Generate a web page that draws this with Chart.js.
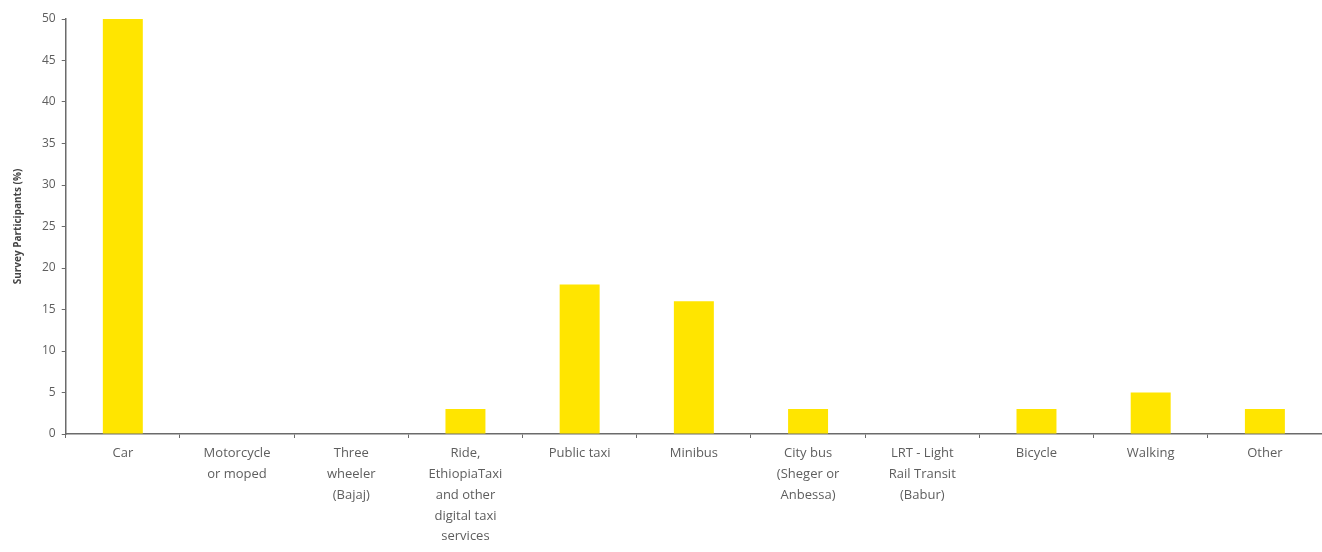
<!DOCTYPE html>
<html>
<head>
<meta charset="utf-8">
<script src="https://cdn.jsdelivr.net/npm/chart.js@4/dist/chart.umd.min.js"></script>
<style>
  html, body { margin: 0; padding: 0; background: #fff; }
  #wrap { width: 1322px; height: 552px; position: relative; }
</style>
</head>
<body>
<div id="wrap"><canvas id="chart"></canvas></div>
<script>
// categories (multi-line labels as shown under the axis)
const categories = [
  ['Car'],
  ['Motorcycle', 'or moped'],
  ['Three', 'wheeler', '(Bajaj)'],
  ['Ride,', 'EthiopiaTaxi', 'and other', 'digital taxi', 'services'],
  ['Public taxi'],
  ['Minibus'],
  ['City bus', '(Sheger or', 'Anbessa)'],
  ['LRT - Light', 'Rail Transit', '(Babur)'],
  ['Bicycle'],
  ['Walking'],
  ['Other']
];
const participants = [50, 0, 0, 3, 18, 16, 3, 0, 3, 5, 3];
const yTicks = [0, 5, 10, 15, 20, 25, 30, 35, 40, 45, 50];

const axisColor = '#6b6b6b';
const textColor = '#5e5e5e';

const ctx = document.getElementById('chart').getContext('2d');
new Chart(ctx, {
  type: 'bar',
  data: {
    labels: categories,
    datasets: [{
      label: 'Survey Participants (%)',
      data: participants,
      backgroundColor: '#FFE500',
      borderWidth: 0,
      barPercentage: 0.35,
      categoryPercentage: 1
    }]
  },
  options: {
    responsive: true,
    maintainAspectRatio: false,
    animation: false,
    layout: { padding: { top: 19, right: -4, left: 12, bottom: 0 } },
    scales: {
      x: {
        grid: {
          offset: true,
          drawOnChartArea: false,
          drawTicks: true,
          tickLength: 4,
          color: axisColor,
          lineWidth: 1
        },
        border: { color: axisColor, width: 1.5 },
        ticks: {
          color: textColor,
          font: { family: '"Open Sans", sans-serif', size: 13, lineHeight: 1.6 },
          maxRotation: 0,
          autoSkip: false,
          padding: 5
        }
      },
      y: {
        min: 0,
        max: 50,
        afterBuildTicks: axis => { axis.ticks = yTicks.map(v => ({ value: v })); },
        grid: {
          drawOnChartArea: false,
          drawTicks: true,
          tickLength: 4,
          color: axisColor
        },
        border: { color: axisColor, width: 1.5 },
        ticks: {
          color: textColor,
          font: { family: '"Open Sans", sans-serif', size: 12 },
          padding: 6
        },
        title: {
          display: true,
          text: 'Survey Participants (%)',
          color: '#444',
          font: { family: '"Open Sans", sans-serif', size: 10, weight: 'bold' },
          padding: { top: 0, bottom: 12 }
        }
      }
    },
    plugins: {
      legend: { display: false },
      tooltip: { enabled: false }
    }
  }
});
</script>
</body>
</html>
